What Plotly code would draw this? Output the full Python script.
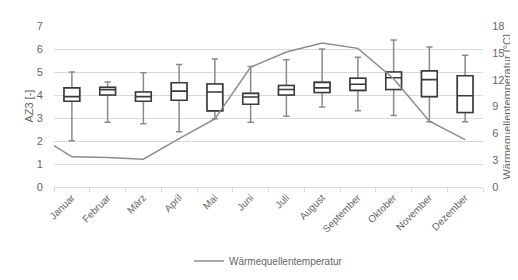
import plotly.graph_objects as go

months = ["Januar", "Februar", "März", "April", "Mai", "Juni", "Juli",
          "August", "September", "Oktober", "November", "Dezember"]

az_upper = [5.0, 4.57, 4.97, 5.33, 5.57, 5.24, 5.53, 6.0, 5.64, 6.39, 6.09, 5.73]
az_q3 = [4.31, 4.33, 4.13, 4.53, 4.48, 4.07, 4.41, 4.55, 4.73, 5.0, 5.05, 4.84]
az_median = [3.93, 4.23, 3.93, 4.17, 4.13, 3.91, 4.24, 4.31, 4.47, 4.75, 4.67, 3.97]
az_q1 = [3.73, 4.0, 3.73, 3.77, 3.31, 3.6, 4.0, 4.11, 4.2, 4.24, 3.93, 3.24]
az_lower = [2.01, 2.81, 2.75, 2.4, 2.97, 2.81, 3.08, 3.48, 3.31, 3.11, 2.84, 2.84]

temp_start = 4.63   # value where the line enters at the left plot edge
temp = [3.37, 3.3, 3.11, 5.4, 7.6, 13.4, 15.1, 16.1, 15.5, 12.1, 7.35, 5.3]

left_title = "AZ3 [-]"
right_title = "Wärmequellentemperatur [°C]"

FONT = "Liberation Sans, Arial, sans-serif"
TXT = "#666666"
GRID = "#d9d9d9"
CLEAR = "rgba(0,0,0,0)"

fig = go.Figure()

# whiskers (grey)
fig.add_trace(go.Box(
    x=months, q1=az_q1, median=az_median, q3=az_q3,
    lowerfence=az_lower, upperfence=az_upper,
    width=0.44, whiskerwidth=0.4,
    line=dict(color="#8a8a8a", width=1.5), fillcolor="white",
    showlegend=False, hoverinfo="skip",
))
# boxes (dark)
fig.add_trace(go.Box(
    x=months, q1=az_q1, median=az_median, q3=az_q3,
    lowerfence=az_q1, upperfence=az_q3,
    width=0.44, whiskerwidth=0,
    line=dict(color="#3a3a3a", width=1.6), fillcolor="white",
    showlegend=False, hoverinfo="skip",
))

line_x = [-0.5] + list(range(len(months)))
fig.add_trace(go.Scatter(
    x=line_x, y=[temp_start] + temp, xaxis="x2", yaxis="y2",
    mode="lines", line=dict(color="#8c8c8c", width=1.5),
    name="Wärmequellentemperatur",
))

fig.update_layout(
    width=518, height=280,
    margin=dict(l=46, r=43, t=13, b=92),
    paper_bgcolor="white", plot_bgcolor="white",
    font=dict(family=FONT, size=11, color=TXT),
    boxmode="overlay",
    showlegend=True,
    legend=dict(orientation="h", x=0.5, xanchor="center", y=-0.46, yanchor="middle",
                font=dict(size=10, color=TXT)),
    xaxis=dict(
        type="category", range=[-0.5, 11.5], tickson="boundaries",
        ticks="outside", ticklen=4, tickcolor=GRID, showline=True, linecolor=GRID,
        tickangle=-45, tickfont=dict(size=10, color=TXT), showgrid=False,
    ),
    xaxis2=dict(overlaying="x", range=[-0.5, 11.5], visible=False),
    yaxis=dict(
        range=[0, 7], dtick=1, showgrid=True, gridcolor=GRID, gridwidth=1,
        zeroline=False, showline=False, ticks="outside", ticklen=8, tickcolor=CLEAR,
        tickfont=dict(size=11, color=TXT),
    ),
    yaxis2=dict(
        overlaying="y", side="right", anchor="x2", range=[0, 18], dtick=3,
        showgrid=False, zeroline=False, ticks="outside", ticklen=6, tickcolor=CLEAR,
        tickfont=dict(size=11, color=TXT),
    ),
    annotations=[
        dict(text=left_title, xref="paper", yref="paper", x=-0.065, y=0.5,
             xanchor="center", yanchor="middle", textangle=-90, showarrow=False,
             xshift=2, font=dict(size=11, color=TXT)),
        dict(text=right_title, xref="paper", yref="paper", x=1.077, y=0.5,
             xanchor="center", yanchor="middle", textangle=-90, showarrow=False,
             xshift=-10, font=dict(size=11, color=TXT)),
    ],
)

fig.write_html("out.html")
